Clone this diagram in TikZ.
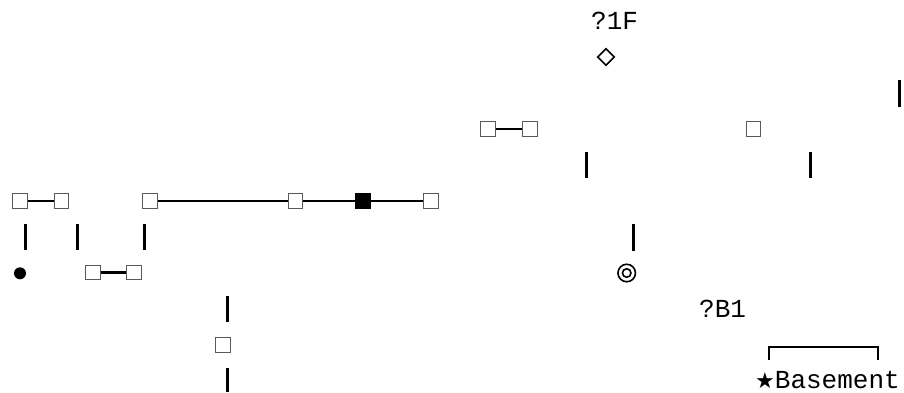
\documentclass[tikz,border=0pt]{standalone}
\usepackage{fontspec}
\setmonofont{Liberation Mono}
\newfontfamily\symfont{DejaVu Sans}
\usetikzlibrary{shapes.geometric}
\begin{document}
\begin{tikzpicture}[x=1pt,y=-1pt,
  sq/.style={draw=black!65,line width=1.3pt,fill=white,minimum size=14.5pt,inner sep=0pt},
  bsq/.style={sq,fill=black,draw=black},
  link/.style={line width=2.6pt},
  bar/.style={line width=3pt},
  lbl/.style={font=\ttfamily\fontsize{26}{30}\selectfont,inner sep=0pt,anchor=base west}]
\useasboundingbox (0,0) rectangle (904,392);
% squares
\node[sq] (a1) at (20,201) {};
\node[sq] (a2) at (61.5,201) {};
\node[sq] (a3) at (150,201) {};
\node[sq] (a4) at (295.5,201) {};
\node[bsq] (a5) at (363,201) {};
\node[sq] (a6) at (431,201) {};
\node[sq] (b1) at (93,272.5) {};
\node[sq] (b2) at (134,272.5) {};
\node[sq] (c1) at (223,345) {};
\node[sq] (d1) at (488,129) {};
\node[sq] (d2) at (530,129) {};
\node[sq] (e1) at (753.5,129) {};
% links
\draw[link] (a1) -- (a2);
\draw[link] (a3) -- (a4);
\draw[link] (a4) -- (a5);
\draw[link] (a5) -- (a6);
\draw[link] (b1) -- (b2);
\draw[link] (d1) -- (d2);
% other symbols
\node[circle,fill=black,minimum size=12pt,inner sep=0pt] (dot) at (20,273.3) {};
\node[diamond,draw=black,line width=1.6pt,minimum size=17pt,inner sep=0pt] (dia) at (606,57) {};
\node[circle,draw=black,line width=1.6pt,minimum size=17.5pt,inner sep=0pt] (tgt) at (626.7,273) {};
\node[circle,draw=black,line width=1.6pt,minimum size=8.5pt,inner sep=0pt] (tgtin) at (tgt.center) {};
% bars
\foreach \n/\x/\ya/\yb in {1/25/224/250, 2/77/224/250, 3/144/224/250, 4/227.7/296/322, 5/227.7/368/392,
  6/586.7/152/178, 7/810/152/178, 8/633.3/224/250.7, 9/899.3/80/106.7}{
  \coordinate (bt\n) at (\x,\ya);
  \coordinate (bb\n) at (\x,\yb);
  \draw[bar] (bt\n) -- (bb\n);
}
% bracket
\coordinate (k1) at (769.3,360);
\coordinate (k2) at (769.3,347);
\coordinate (k3) at (878.3,347);
\coordinate (k4) at (878.3,360);
\draw[line width=2pt] (k1) -- (k2) -- (k3) -- (k4);
% labels
\node[lbl] (t1) at (591,29) {?1F};
\node[lbl] (t2) at (699,317.3) {?B1};
\node[lbl] (t3) at (755,388.3) {{\symfont\fontsize{22}{26}\selectfont ★}Basement};
\end{tikzpicture}
\end{document}
